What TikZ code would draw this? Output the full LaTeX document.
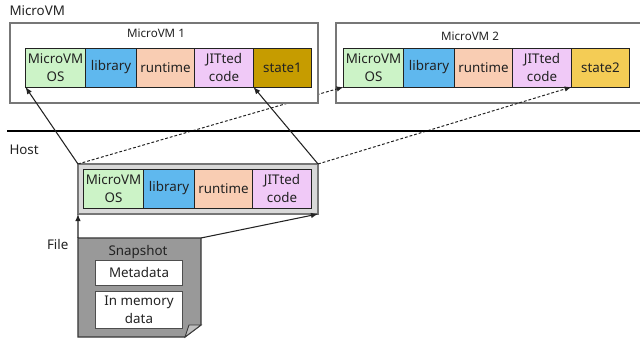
\documentclass[tikz,border=0pt]{standalone}
\usepackage{fontspec}
\setmainfont{Noto Sans}
\definecolor{osgreen}{HTML}{CCF3C7}
\definecolor{libblue}{HTML}{5FB8EE}
\definecolor{rtpeach}{HTML}{F9CDB3}
\definecolor{jitpink}{HTML}{F0C9F7}
\definecolor{stateone}{HTML}{C69C00}
\definecolor{statetwo}{HTML}{F4CC55}
\definecolor{edgegray}{HTML}{777777}
\definecolor{inkdark}{HTML}{222222}
\tikzset{
  every node/.style={font=\fontsize{9.5}{12.8}\selectfont, text=inkdark, inner sep=0pt, outer sep=0pt},
  cell/.style={rectangle, draw=inkdark, line width=.7pt, minimum height=.975cm, align=center},
  vmbox/.style={rectangle, draw=edgegray, line width=.85pt, fill=white, minimum height=2cm},
  whitebox/.style={rectangle, draw=inkdark!80, line width=.7pt, fill=white, minimum width=2.15cm, align=center},
  title/.style={font=\fontsize{8.25}{10}\selectfont},
  solidarrow/.style={-latex, inkdark, line width=.75pt},
  dasharrow/.style={-latex, inkdark, line width=.7pt, dashed, dash pattern=on 2pt off 1.4pt},
}
\begin{document}
\begin{tikzpicture}[x=.025cm, y=-.025cm]
    \useasboundingbox (0,0) rectangle (640,341);

    \node[anchor=west] at (9.5,11) (MVMLabel) {MicroVM};
    \node[anchor=west] at (9.5,150) (HostLabel) {Host};
    \node[anchor=west] at (47,244) (FileLabel) {File};

    % host copy of the shared pages
    \node[rectangle, draw=edgegray, line width=1.1pt, fill=black!15, minimum width=6cm, minimum height=1.25cm] at (198,189) (HOST) {};
    \node[cell, fill=osgreen, minimum width=1.5cm] at (113.5,188.5) (OSH) {MicroVM\\OS};
    \node[cell, fill=libblue, minimum width=1.275cm] at (169,188.5) (LIBH) {library};
    \node[cell, fill=rtpeach, minimum width=1.45cm] at (223.5,188.5) (RTH) {runtime};
    \node[cell, fill=jitpink, minimum width=1.475cm] at (282,188.5) (JITH) {JITted\\code};

    % second microvm sits under the dashed arrows
    \node[vmbox, minimum width=7.7cm] at (490,63) (VMB) {};
    \node[title] at (470,36) (VMBTitle) {MicroVM 2};
    \node[cell, fill=osgreen, minimum width=1.5cm] at (373.5,67.5) (OSB) {MicroVM\\OS};
    \node[cell, fill=libblue, minimum width=1.275cm] at (429,67.5) (LIBB) {library};
    \node[cell, fill=rtpeach, minimum width=1.45cm] at (483.5,67.5) (RTB) {runtime};
    \node[cell, fill=jitpink, minimum width=1.475cm] at (542,67.5) (JITB) {JITted\\code};
    \node[cell, fill=statetwo, minimum width=1.45cm] at (600.5,67.5) (STB) {state2};

    \draw [dasharrow] (HOST.north west) to (OSB.south west);
    \draw [dasharrow] (HOST.north east) to (STB.south west);

    % first microvm hides the dashed arrow
    \node[vmbox, minimum width=7.7cm] at (164,63) (VMA) {};
    \node[title] at (156,33) (VMATitle) {MicroVM 1};
    \node[cell, fill=osgreen, minimum width=1.5cm] at (55.5,67.5) (OSA) {MicroVM\\OS};
    \node[cell, fill=libblue, minimum width=1.275cm] at (111,67.5) (LIBA) {library};
    \node[cell, fill=rtpeach, minimum width=1.45cm] at (165.5,67.5) (RTA) {runtime};
    \node[cell, fill=jitpink, minimum width=1.475cm] at (224,67.5) (JITA) {JITted\\code};
    \node[cell, fill=stateone, minimum width=1.45cm] at (282.5,67.5) (STA) {state1};

    \node[rectangle, minimum width=15.825cm, minimum height=.07cm, fill=black] at (323.5,131) (SEP) {};

    \draw [solidarrow] (HOST.north west) to (OSA.south west);
    \draw [solidarrow] (HOST.north east) to (STA.south west);

    % snapshot file
    \node[rectangle, minimum width=3.075cm, minimum height=2.475cm] at (139.5,287.5) (SNAP) {};
    \draw[draw=inkdark!90, line width=.8pt, fill=black!40] (SNAP.north west) -- (SNAP.north east) -- ([yshift=.3cm]SNAP.south east) -- ([xshift=-.4cm]SNAP.south east) -- (SNAP.south west) -- cycle;
    \draw[draw=inkdark!90, line width=.6pt, fill=black!25] ([yshift=.3cm]SNAP.south east) -- ([xshift=-.3cm, yshift=.3cm]SNAP.south east) -- ([xshift=-.4cm]SNAP.south east) -- cycle;
    \node at (138,252) (SNAPTitle) {Snapshot};
    \node[whitebox, minimum height=.625cm] at (139,272.5) (META) {Metadata};
    \node[whitebox, minimum height=.925cm] at (139,309.5) (MEM) {In memory\\data};

    \draw [solidarrow] (SNAP.north west) to (HOST.south west);
    \draw [solidarrow] (SNAP.north east) to (HOST.south east);

\end{tikzpicture}
\end{document}
